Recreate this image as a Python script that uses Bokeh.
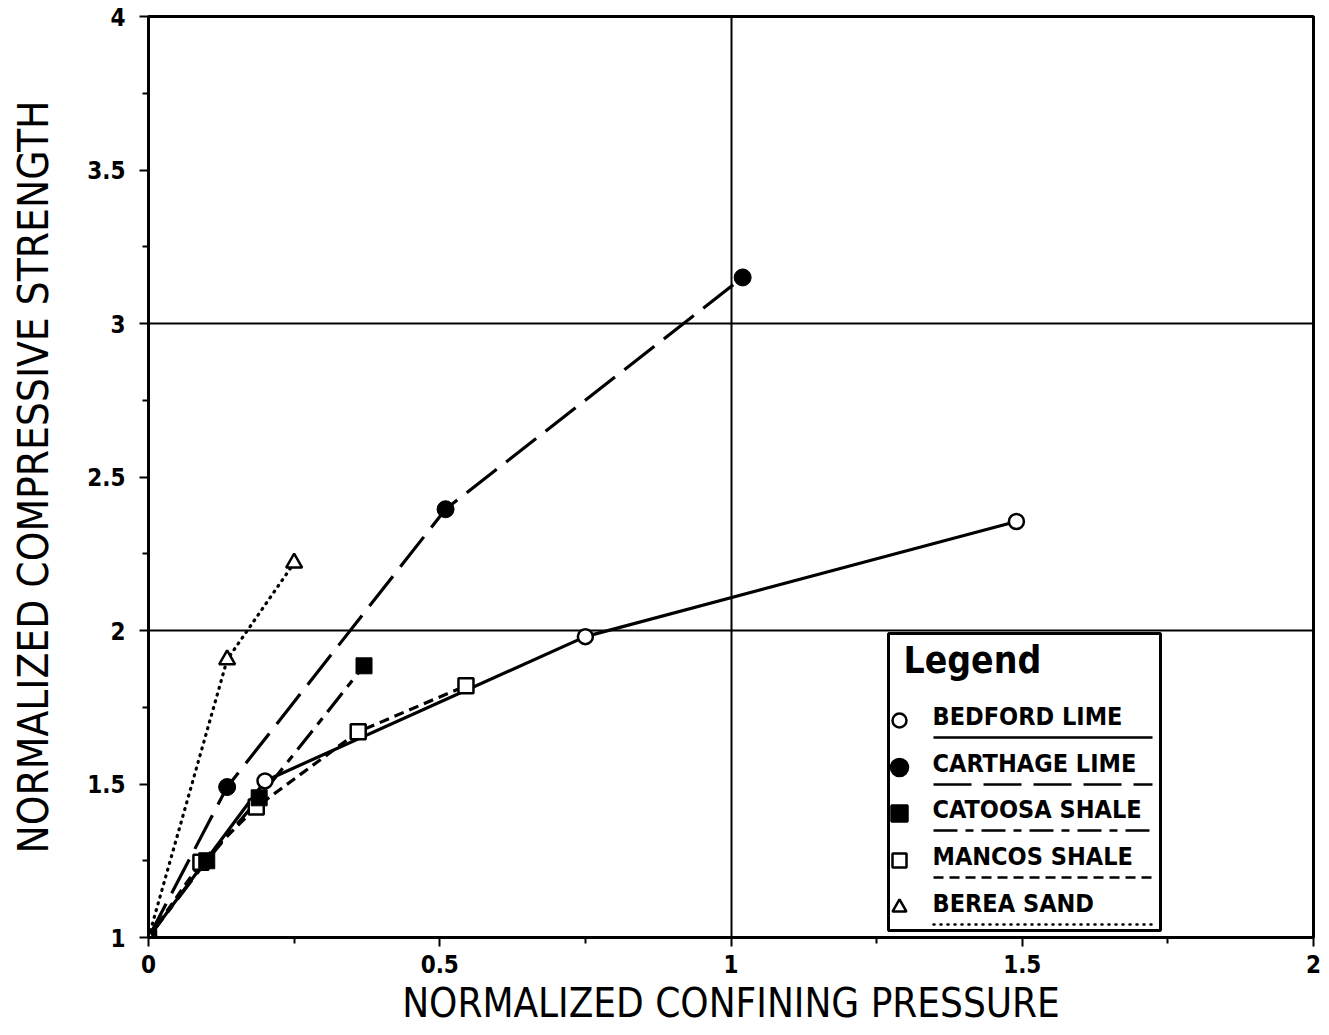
from bokeh.plotting import figure
from bokeh.models import FixedTicker, Range1d, BoxAnnotation, Label
from bokeh.embed import file_html
from bokeh.resources import INLINE

# ---- data ----
bedford_x = [0.0, 0.20, 0.75, 1.49]
bedford_y = [1.0, 1.51, 1.98, 2.355]
carthage_x = [0.0, 0.135, 0.51, 1.02]
carthage_y = [1.0, 1.49, 2.395, 3.15]
catoosa_x = [0.0, 0.10, 0.19, 0.37]
catoosa_y = [1.0, 1.25, 1.455, 1.885]
mancos_x = [0.0, 0.09, 0.185, 0.36, 0.545]
mancos_y = [1.0, 1.245, 1.425, 1.67, 1.82]
berea_x = [0.0, 0.135, 0.25]
berea_y = [1.0, 1.905, 2.22]

series_names = ["BEDFORD LIME", "CARTHAGE LIME", "CATOOSA SHALE", "MANCOS SHALE", "BEREA SAND"]
x_ticks = [0, 0.5, 1, 1.5, 2]
y_ticks = [1, 1.5, 2, 2.5, 3, 3.5, 4]

FONT = "'DejaVu Sans Condensed', 'Roboto', sans-serif"

W, H = 1329, 1035
L, R, T, B = 148, 16, 16, 98

p = figure(width=W, height=H, output_backend="svg", toolbar_location=None,
           x_range=Range1d(0, 2), y_range=Range1d(1, 4),
           min_border_left=L, min_border_right=R, min_border_top=T, min_border_bottom=B)
p.background_fill_color = "white"
p.border_fill_color = "white"
p.outline_line_color = "black"
p.outline_line_width = 3

# grid
p.xgrid.ticker = FixedTicker(ticks=[1])
p.ygrid.ticker = FixedTicker(ticks=[2, 3])
for g in (p.xgrid, p.ygrid):
    g.grid_line_color = "black"
    g.grid_line_width = 2
    g.grid_line_alpha = 1

# axes
p.xaxis.ticker = FixedTicker(ticks=x_ticks, minor_ticks=[0.25, 0.75, 1.25, 1.75])
p.yaxis.ticker = FixedTicker(ticks=y_ticks, minor_ticks=[1.25, 1.75, 2.25, 2.75, 3.25, 3.75])
p.xaxis.major_label_overrides = {0: "0", 0.5: "0.5", 1: "1", 1.5: "1.5", 2: "2"}
p.yaxis.major_label_overrides = {1: "1", 1.5: "1.5", 2: "2", 2.5: "2.5", 3: "3", 3.5: "3.5", 4: "4"}
for ax in (p.xaxis[0], p.yaxis[0]):
    ax.axis_line_width = 3
    ax.axis_line_color = "black"
    ax.major_tick_line_width = 2
    ax.minor_tick_line_width = 2
    ax.major_tick_out = 9
    ax.major_tick_in = 0
    ax.minor_tick_out = 6
    ax.minor_tick_in = 0
    ax.major_label_text_font = FONT
    ax.major_label_text_font_style = "bold"
    ax.major_label_text_font_size = "24px"
    ax.major_label_text_color = "black"
    ax.axis_label_text_font = FONT
    ax.axis_label_text_font_style = "normal"
    ax.axis_label_text_color = "black"
p.xaxis.axis_label_text_font_size = "40px"
p.yaxis.axis_label_text_font_size = "42px"
p.xaxis.axis_label = "NORMALIZED CONFINING PRESSURE"
p.yaxis.axis_label = "NORMALIZED COMPRESSIVE STRENGTH"
p.xaxis.major_label_standoff = 8
p.yaxis.major_label_standoff = 14
p.xaxis.axis_label_standoff = 4
p.yaxis.axis_label_standoff = 26

LW = 3.2
# series lines
p.line(bedford_x, bedford_y, line_color="black", line_width=LW)
p.line(carthage_x, carthage_y, line_color="black", line_width=LW, line_dash="38 12")
p.line(catoosa_x, catoosa_y, line_color="black", line_width=LW, line_dash="24 8 8 8")
p.line(mancos_x, mancos_y, line_color="black", line_width=LW, line_dash="10 6")
p.line(berea_x, berea_y, line_color="black", line_width=LW, line_dash="1 6", line_cap="round")

# markers
p.scatter(bedford_x, bedford_y, marker="circle", size=15, fill_color="white", line_color="black", line_width=2.5)
p.scatter(carthage_x, carthage_y, marker="circle", size=17, fill_color="black", line_color="black")
p.scatter(mancos_x, mancos_y, marker="square", size=15, fill_color="white", line_color="black", line_width=2.5)
p.scatter(catoosa_x, catoosa_y, marker="square", size=16, fill_color="black", line_color="black")
p.scatter(berea_x, berea_y, marker="triangle", size=16, fill_color="white", line_color="black", line_width=2.5)

# ---- custom legend (layout in pixel positions, converted to data space) ----
def px2x(px):
    return (px - L) / (W - L - R) * 2.0

def px2y(py):
    return 1 + (H - B - py) / (H - B - T) * 3.0

p.add_layout(BoxAnnotation(left=px2x(888), right=px2x(1160), top=px2y(633), bottom=px2y(930),
                           fill_color="white", fill_alpha=1, line_color="black", line_alpha=1,
                           line_width=3, level="underlay"))
p.add_layout(Label(x=px2x(903), y=px2y(681), text="Legend", text_font=FONT,
                   text_font_style="bold", text_font_size="37px", text_color="black", level="overlay"))

entry_y = [720, 767, 813, 860, 907]
markers = [("circle", "white", 14), ("circle", "black", 17), ("square", "black", 16),
           ("square", "white", 14), ("triangle", "white", 14)]
dashes = ["solid", "38 12", "24 8 8 8", "10 6", "1 6"]
for name, py, (mk, fc, sz), dash in zip(series_names, entry_y, markers, dashes):
    p.scatter([px2x(899)], [px2y(py)], marker=mk, size=sz,
              fill_color=fc, line_color="black", line_width=2.5)
    p.add_layout(Label(x=px2x(932), y=px2y(py + 10), text=name, text_font=FONT, text_font_style="bold",
                       text_font_size="25px", text_color="black", level="overlay"))
    p.line([px2x(933), px2x(1152)], [px2y(py + 17), px2y(py + 17)], line_color="black",
           line_width=2.5, line_dash=dash, line_cap="round" if dash == "1 6" else "butt")

open("out.html", "w").write(file_html(p, INLINE))
